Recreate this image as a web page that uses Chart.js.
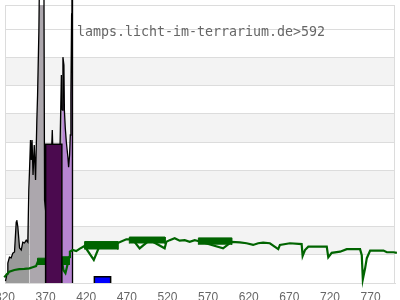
<!DOCTYPE html>
<html lang="en">
<head>
  <meta charset="UTF-8">
  <title>Lamp spectrum</title>
  <script src="https://cdn.jsdelivr.net/npm/chart.js"></script>
  <style>
    html, body {
      margin: 0;
      padding: 0;
      background: #fff;
      overflow: hidden;
    }

    .wrap {
      position: relative;
      width: 400px;
      height: 300px;
    }
  </style>
</head>
<body>
  <div class="wrap">
    <canvas id="spectrumChart"></canvas>
  </div>

  <script>
    const sourceLabel = 'lamps.licht-im-terrarium.de>592';
    const xTicks = [320, 370, 420, 470, 520, 570, 620, 670, 720, 770];
    const yMax = 9.86;

    // lamp UV measurement (nm / relative)
    const uvNm = [320.6, 322.5, 323.5, 325.5, 327.6, 329.6, 331.7, 333.8, 334.5, 335.8,
      337.9, 340.0, 341.9, 344.0, 346.1, 348.1, 349.3, 350.2, 351.4, 352.3,
      353.3, 354.5, 356.0, 357.6, 359.2, 360.1, 361.7, 362.9, 367.8, 368.7,
      372.4, 376.1, 378.2, 379.2, 383.5, 387.2, 389.4, 390.3, 391.3, 392.5,
      393.1, 394.2, 395.5, 397.4, 398.3, 399.5, 400.4, 401.1, 402.0, 402.4,
      402.9, 403.1];
    const uvValue = [0.07, 0.32, 0.71, 0.92, 0.89, 1.06, 1.10, 2.16, 2.23, 1.99,
      1.24, 1.17, 1.45, 1.42, 1.52, 1.45, 3.30, 4.01, 5.07, 4.36,
      5.07, 3.83, 4.89, 3.65, 5.78, 6.67, 8.94, 12, 12, 2.94,
      1.88, 3.65, 5.43, 4.36, 3.30, 4.01, 7.38, 6.13, 8.01, 7.73,
      6.13, 5.50, 5.00, 4.47, 4.11, 4.54, 5.25, 6.67, 9.54, 12,
      12, 0];

    // reference daylight curve
    const sunNm = [313.0, 319.1, 321.2, 325.3, 331.5, 337.6, 343.8, 350.0, 354.0, 358.2,
      360.2, 368.5, 380.8, 390.3, 391.9, 394.4, 396.8, 399.3, 399.9, 403.4,
      407.6, 411.7, 417.8, 429.3, 436.3, 458.9, 469.3, 477.0, 485.7, 498.0,
      516.5, 518.6, 522.7, 528.8, 535.0, 541.2, 547.3, 553.5, 557.6, 588.4,
      598.8, 609.0, 617.3, 625.4, 631.6, 637.7, 646.0, 656.3, 658.4, 670.7,
      685.1, 686.3, 689.2, 693.3, 703.6, 716.0, 717.9, 722.1, 732.4, 740.6,
      757.0, 759.1, 760.4, 763.2, 765.3, 769.4, 785.8, 790.0, 798.2, 802.3];
    const sunValue = [0.13, 0.20, 0.28, 0.40, 0.46, 0.49, 0.50, 0.52, 0.56, 0.60,
      0.74, 0.74, 0.74, 0.74, 0.46, 0.35, 0.64, 0.93, 1.11, 1.17,
      1.13, 1.21, 1.31, 0.82, 1.31, 1.42, 1.55, 1.55, 1.23, 1.52,
      1.23, 1.46, 1.52, 1.59, 1.50, 1.52, 1.46, 1.52, 1.49, 1.23,
      1.46, 1.44, 1.41, 1.35, 1.41, 1.43, 1.41, 1.20, 1.35, 1.41,
      1.38, 0.96, 1.17, 1.29, 1.29, 1.29, 0.91, 1.07, 1.11, 1.20,
      1.20, 0.99, 0.13, 0.52, 0.88, 1.15, 1.15, 1.09, 1.09, 1.07];

    // noisy stretches of the daylight curve (from, to, low, high)
    const noiseFrom = [360, 390, 418, 473, 558];
    const noiseTo = [390, 399, 459, 517, 599];
    const noiseLow = [0.64, 0.64, 1.19, 1.40, 1.36];
    const noiseHigh = [0.88, 0.93, 1.47, 1.63, 1.60];

    // band bars (from, to, value)
    const barFrom = [370, 430];
    const barTo = [390, 450];
    const barValue = [4.92, 0.22];

    function pts(xs, ys) {
      return xs.map((x, i) => ({ x: x, y: ys[i] }));
    }

    function box(from, to, lo, hi) {
      return [{ x: from, y: lo }, { x: from, y: hi }, { x: to, y: hi }, { x: to, y: lo }];
    }

    const noisePts = [];
    noiseFrom.forEach((f, i) => {
      noisePts.push(...box(f, noiseTo[i], noiseLow[i], noiseHigh[i]));
      noisePts.push({ x: noiseTo[i], y: null });
    });

    function uvFill(nm) {
      if (nm < 350) return '#9a9a9a';
      if (nm < 390) return '#aca7ad';
      return '#b785d2';
    }

    const stripes = {
      id: 'stripes',
      beforeDraw(chart) {
        const { ctx, chartArea: a, scales: { y } } = chart;
        ctx.save();
        ctx.fillStyle = '#f3f3f3';
        y.ticks.forEach(t => {
          if (t.value % 2 === 1 && t.value + 1 <= y.max) {
            const top = y.getPixelForValue(t.value + 1);
            const bottom = y.getPixelForValue(t.value);
            ctx.fillRect(a.left, top, a.right - a.left, bottom - top);
          }
        });
        ctx.strokeStyle = '#dcdcdc';
        ctx.lineWidth = 1;
        ctx.strokeRect(a.left + 0.5, a.top + 0.5, a.right - a.left - 1, a.bottom - a.top);
        ctx.restore();
      }
    };

    const stamp = {
      id: 'stamp',
      afterDraw(chart) {
        const ctx = chart.ctx;
        ctx.save();
        ctx.font = '13.3px "DejaVu Sans Mono"';
        ctx.fillStyle = '#666';
        ctx.textAlign = 'center';
        ctx.textBaseline = 'middle';
        ctx.fillText(sourceLabel, chart.width / 2 + 1, 33);
        ctx.restore();
      }
    };

    const ctx = document.getElementById('spectrumChart').getContext('2d');

    new Chart(ctx, {
      type: 'line',
      data: {
        datasets: [
          {
            label: 'bar 370-390',
            data: box(barFrom[0], barTo[0], 0, barValue[0]),
            borderColor: '#000',
            borderWidth: 1.5,
            backgroundColor: '#4b0a4f',
            fill: 'origin',
            order: 2
          },
          {
            label: 'bar 430-450',
            data: box(barFrom[1], barTo[1], 0, barValue[1]),
            borderColor: '#000',
            borderWidth: 1.5,
            backgroundColor: '#0000ff',
            fill: 'origin',
            order: 1
          },
          {
            label: 'noise',
            data: noisePts,
            borderColor: '#006400',
            borderWidth: 1,
            backgroundColor: '#006400',
            fill: 'shape',
            spanGaps: false,
            order: 3
          },
          {
            label: 'daylight',
            data: pts(sunNm, sunValue),
            borderColor: '#006400',
            borderWidth: 2.2,
            fill: false,
            order: 4
          },
          {
            label: 'lamp',
            data: pts(uvNm, uvValue),
            borderColor: '#000',
            borderWidth: 1.3,
            backgroundColor: '#aca7ad',
            fill: 'origin',
            segment: {
              backgroundColor: c => uvFill(c.p0.parsed.x)
            },
            order: 5
          }
        ]
      },
      options: {
        responsive: true,
        maintainAspectRatio: false,
        animation: false,
        layout: { padding: { left: 5, right: 5, top: 5, bottom: 0 } },
        datasets: { line: { clip: false, tension: 0, pointRadius: 0 } },
        plugins: {
          legend: { display: false },
          tooltip: { enabled: false }
        },
        scales: {
          x: {
            type: 'linear',
            min: 320,
            max: 800,
            grid: { display: false, drawTicks: false },
            border: { color: '#dcdcdc' },
            ticks: {
              color: '#666',
              font: { size: 12 },
              padding: 7,
              maxRotation: 0,
              autoSkip: false
            },
            afterBuildTicks: s => { s.ticks = xTicks.map(v => ({ value: v })); },
            afterFit: s => { s.paddingLeft = 0; s.paddingRight = 0; s.height = 17; }
          },
          y: {
            min: 0,
            max: yMax,
            ticks: { display: false, stepSize: 1 },
            grid: { color: '#dcdcdc', drawTicks: false },
            border: { color: '#dcdcdc' },
            afterFit: s => { s.width = 0; }
          }
        }
      },
      plugins: [stripes, stamp]
    });
  </script>
</body>
</html>
